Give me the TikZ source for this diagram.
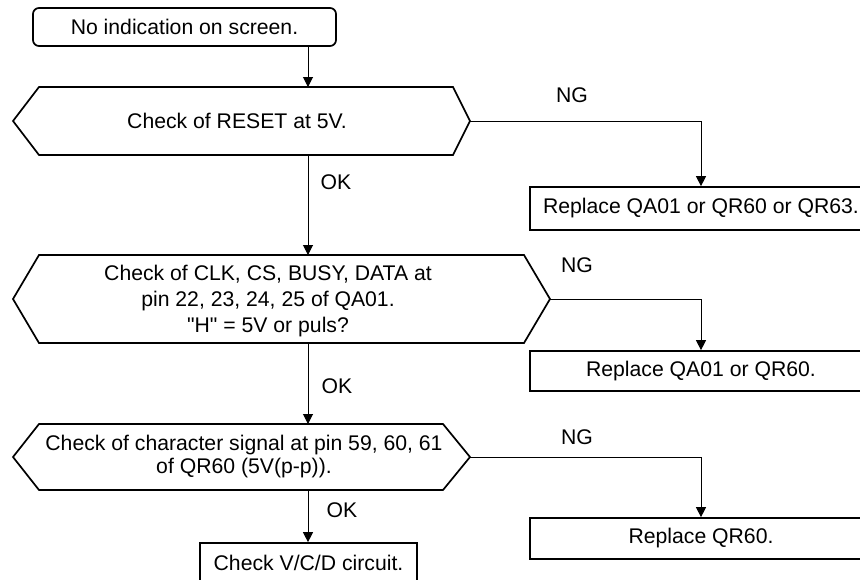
\documentclass[tikz,border=0pt]{standalone}
\usepackage{fontspec}
\setmainfont{Liberation Sans}[Ligatures=TeXOff]
\usetikzlibrary{arrows.meta}
\tikzset{
  txt/.style={font=\fontsize{21.2}{25}\selectfont, inner sep=0pt, align=center},
  outline/.style={draw=black, line width=1.7pt, line join=miter},
  rbox/.style={outline, txt, minimum height=40pt},
  conn/.style={draw=black, line width=1pt, -{Triangle[length=10pt,width=10pt]}},
  lbl/.style={txt}
}
\begin{document}
\begin{tikzpicture}[x=1pt,y=-1pt]
\useasboundingbox (0,0) rectangle (860,579);
\clip (0,0) rectangle (860,579);

% spine
\coordinate (spine) at (308,0);

% start box
\node[rbox, rounded corners=6pt, minimum width=303pt, minimum height=38pt] (start) at (184.5,27) {No indication on screen.};

% hexagon 1
\draw[outline] (13,121) -- (39,87) -- (453,87) -- (470,121) -- (453,155) -- (39,155) -- cycle;
\node[txt] (q1) at (237,121) {Check of RESET at 5V.};
\coordinate (q1t) at (308,87);
\coordinate (q1b) at (308,155);
\coordinate (q1r) at (470,121);

% hexagon 2
\draw[outline] (13,299) -- (39,255) -- (524,255) -- (550,299) -- (524,343) -- (39,343) -- cycle;
\node[txt, font=\fontsize{21.2}{26}\selectfont] (q2) at (268,301) {Check of CLK, CS, BUSY, DATA at\\pin 22, 23, 24, 25 of QA01.\\"H" = 5V or puls?};
\coordinate (q2t) at (308,255);
\coordinate (q2b) at (308,343);
\coordinate (q2r) at (550,299);

% hexagon 3
\draw[outline] (13,457) -- (39,424) -- (443,424) -- (470,457) -- (443,490) -- (39,490) -- cycle;
\node[txt, font=\fontsize{21.2}{23}\selectfont] (q3) at (244,457) {Check of character signal at pin 59, 60, 61\\of QR60 (5V(p-p)).};
\coordinate (q3t) at (308,424);
\coordinate (q3b) at (308,490);
\coordinate (q3r) at (470,457);

% right boxes
\node[rbox, minimum width=342pt, minimum height=43pt] (r1) at (701,208.5) {Replace QA01 or QR60 or QR63.};
\node[rbox, minimum width=342pt, minimum height=40pt] (r2) at (701,371) {Replace QA01 or QR60.};
\node[rbox, minimum width=342pt, minimum height=41pt] (r3) at (701,538.5) {Replace QR60.};

% bottom box
\node[rbox, minimum width=217pt, minimum height=40pt] (r4) at (308.5,563) {Check V/C/D circuit.};

% connectors
\draw[conn] (start.south -| spine) -- (q1t);
\draw[conn] (q1b) -- (q2t);
\draw[conn] (q2b) -- (q3t);
\draw[conn] (q3b) -- (r4.north -| spine);

\draw[conn] (q1r) -| (r1.north);
\draw[conn] (q2r) -| (r2.north);
\draw[conn] (q3r) -| (r3.north);

% labels
\node[lbl] (ng1) at (572,95) {NG};
\node[lbl] (ok1) at (336,182) {OK};
\node[lbl] (ng2) at (577,265) {NG};
\node[lbl] (ok2) at (337,386) {OK};
\node[lbl] (ng3) at (577,437) {NG};
\node[lbl] (ok3) at (342,510) {OK};
\end{tikzpicture}
\end{document}
